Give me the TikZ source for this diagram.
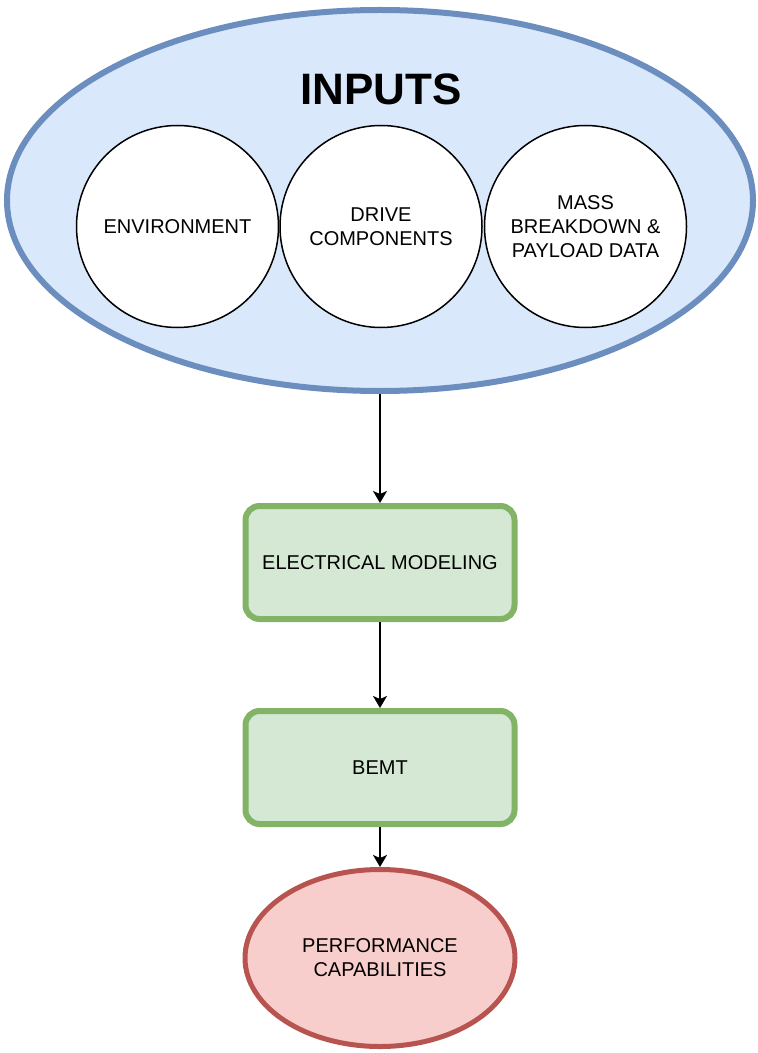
\documentclass[tikz,border=0pt]{standalone}
\usepackage{fontspec}
\setmainfont{Liberation Sans}
\usetikzlibrary{positioning,shapes.geometric,arrows.meta}
\definecolor{inputfill}{HTML}{DAE8FC}
\definecolor{inputline}{HTML}{6C8EBF}
\definecolor{stepfill}{HTML}{D5E8D4}
\definecolor{stepline}{HTML}{82B366}
\definecolor{outfill}{HTML}{F8CECC}
\definecolor{outline}{HTML}{B85450}

\begin{document}
\begin{tikzpicture}[x=0.5pt, y=-0.5pt,
			inputs/.style={ellipse, draw=inputline, fill=inputfill, line width=3pt, minimum width=373pt, minimum height=190.5pt},
			source/.style={circle, draw=black, fill=white, line width=0.75pt, minimum size=101pt, inner sep=0pt, align=center, font=\fontsize{10}{12}\selectfont},
			block/.style={rectangle, rounded corners=7pt, draw=stepline, fill=stepfill, line width=3pt, minimum width=134.5pt, minimum height=56.5pt, align=center, font=\fontsize{10}{12}\selectfont},
			result/.style={ellipse, draw=outline, fill=outfill, line width=2.5pt, minimum width=135pt, minimum height=88.5pt, inner sep=0pt, align=center, font=\fontsize{10}{12}\selectfont}]
			\useasboundingbox (0,0) rectangle (758,1053);
			\node[inputs] (inputs) at (380,200.5) {};
			\node[font=\bfseries\fontsize{22}{26}\selectfont] (title) at (381,89) {INPUTS};
			\node[source] (drive) at (381,226.5) {DRIVE\\COMPONENTS};
			\node[source] (environment) [left=0pt of drive] {ENVIRONMENT};
			\node[source] (mass) [right=0.5pt of drive] {MASS\\BREAKDOWN \&\\PAYLOAD DATA};
			\node[block] (electrical) [below=54.5pt of inputs] {ELECTRICAL MODELING};
			\node[block] (bemt) [below=43pt of electrical] {BEMT};
			\node[result] (performance) [below=20pt of bemt] {PERFORMANCE\\CAPABILITIES};
			\begin{scope}[line width=0.8pt, -{Stealth[length=6pt, width=7pt, inset=1.5pt]}]
				\draw (inputs) -- (electrical);
				\draw (electrical) -- (bemt);
				\draw (bemt) -- (performance);
			\end{scope}
		\end{tikzpicture}
\end{document}
